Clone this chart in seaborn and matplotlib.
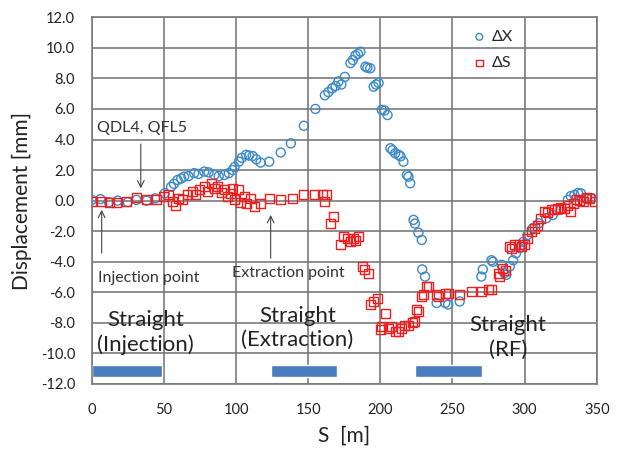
import matplotlib
matplotlib.use("Agg")
import matplotlib.pyplot as plt
import seaborn as sns
import pandas as pd

# ---- data ----
dx_s = [0, 6, 12, 18, 25, 31, 38, 44, 50.6, 55, 57, 59.5, 62, 64, 67, 71, 74, 78, 81, 85,
        88, 92, 95, 97.7, 99, 102, 104, 107, 109, 111.5, 114, 117, 123, 131, 138, 147, 155,
        161.6, 164, 166.6, 169, 171, 173, 175.4, 179.3, 181, 182.7, 184.5, 186.2, 189.7, 191,
        193, 195.4, 197, 198.8, 201, 203, 205, 207, 208.5, 210.3, 212.6, 214, 216, 218.4,
        219.5, 220.7, 223, 224, 226.4, 228.7, 229, 231, 239, 245, 247, 255, 270, 271, 277,
        278, 284, 286, 287.3, 289.7, 292, 294, 296.5, 299, 302, 305.7, 310, 315, 319.5, 325,
        330, 332, 334.5, 337, 339, 343, 346.5]
dx_v = [0.05, 0.1, -0.1, 0.0, -0.1, 0.05, 0.0, 0.15, 0.48, 0.9, 1.1, 1.35, 1.45, 1.57, 1.6,
        1.8, 1.75, 1.9, 1.85, 1.68, 1.6, 1.68, 1.8, 2.0, 2.2, 2.55, 2.8, 3.0, 2.95, 2.92, 2.7,
        2.49, 2.55, 3.15, 3.75, 4.9, 6.0, 6.9, 7.1, 7.35, 7.5, 7.8, 7.6, 8.1, 9.0, 9.2, 9.5,
        9.6, 9.75, 8.77, 8.7, 8.66, 7.46, 7.6, 7.7, 5.94, 5.9, 5.6, 3.43, 3.3, 3.1, 3.0, 2.9,
        2.55, 1.68, 1.57, 1.14, -1.26, -1.5, -2.1, -2.57, -4.5, -4.97, -6.7, -6.7, -6.8, -6.6,
        -4.97, -4.5, -3.9, -4.0, -4.2, -4.75, -4.86, -4.3, -3.9, -3.45, -3.1, -2.7, -2.25,
        -1.8, -1.48, -1.15, -0.94, -0.6, 0.05, 0.3, 0.37, 0.5, 0.48, 0.16, 0.16]

ds_s = [0, 7, 12, 17, 24, 31, 38, 45, 49.4, 53, 56, 58, 60, 63, 66.6, 70, 72, 74.7, 78, 80,
        82.7, 85, 87, 90, 92, 94, 96.5, 97.7, 98.8, 102, 103, 105.7, 107, 110, 112.6, 117,
        123, 131, 139, 147, 154.7, 159.7, 161, 163, 165.5, 167.8, 172.4, 174.7, 177, 179.3,
        181.6, 183, 185, 187.3, 189, 192, 193, 195.4, 197.7, 200, 201, 203.4, 206, 208, 210.3,
        212.6, 215, 217, 219.5, 222, 224, 225, 226.4, 228.7, 230, 232, 233.6, 239, 240, 245,
        247, 255, 263, 270, 274.7, 277, 281.6, 282.7, 285, 287, 289.7, 291, 293, 296.5, 298,
        300, 302, 304.6, 307, 309, 311, 313.8, 316, 318.4, 321, 323, 325, 327.6, 330, 332,
        334, 336, 338, 340.6, 343, 345, 348.5]
ds_v = [-0.07, -0.07, -0.1, -0.13, -0.07, 0.22, 0.05, 0.09, 0.26, 0.37, -0.07, -0.3, 0.16,
        0.05, 0.37, 0.59, 0.4, 0.7, 0.92, 0.6, 1.14, 0.8, 0.92, 0.5, 0.7, 0.3, 0.48, 0.81,
        0.05, 0.7, -0.1, 0.26, -0.17, 0.16, -0.39, -0.17, 0.16, 0.05, 0.16, 0.37, 0.42, 0.37,
        -0.07, 0.37, -1.48, -1.05, -2.9, -2.36, -2.5, -2.68, -2.46, -2.6, -2.36, -4.32, -4.5,
        -4.75, -6.83, -6.6, -6.39, -8.46, -8.24, -7.37, -8.4, -8.24, -8.57, -8.57, -8.35,
        -8.14, -8.14, -8.0, -7.92, -7.15, -7.26, -6.28, -6.17, -5.63, -5.63, -6.17, -6.28,
        -6.06, -6.06, -6.17, -5.96, -5.96, -5.84, -5.84, -4.75, -4.97, -4.43, -4.6, -3.0,
        -3.1, -2.9, -2.9, -3.0, -2.9, -2.5, -2.03, -1.8, -1.6, -1.2, -0.72, -0.8, -0.61,
        -0.55, -0.5, -0.45, -0.5, -0.3, -0.72, -0.2, 0.05, 0.0, -0.07, 0.2, 0.16, -0.07]

straight_start = [0, 124, 224]
straight_end = [48.8, 170, 270.6]

x_ticks = [0, 50, 100, 150, 200, 250, 300, 350]
y_ticks = [-12, -10, -8, -6, -4, -2, 0, 2, 4, 6, 8, 10, 12]

BLUE = "#3a89c9"
RED = "#f01f1f"
BAR = "#4a7cc0"
GRID = "#7a7a7a"

sns.set_theme(style="white")
plt.rcParams["font.family"] = ["Lato", "DejaVu Sans"]

fig = plt.figure(figsize=(6.21, 4.49), dpi=100)
ax = fig.add_axes([0.1477, 0.1448, 0.8133, 0.8167])

df_x = pd.DataFrame({"S": dx_s, "D": dx_v})
df_s = pd.DataFrame({"S": ds_s, "D": ds_v})

sns.scatterplot(data=df_x, x="S", y="D", ax=ax, marker="o", s=42, color=BLUE,
                label="\u0394X", zorder=3)
c1 = ax.collections[-1]
c1.set_facecolor("none"); c1.set_edgecolor(BLUE); c1.set_linewidth(1.0)
sns.scatterplot(data=df_s, x="S", y="D", ax=ax, marker="s", s=42, color=RED,
                label="\u0394S", zorder=4)
c2 = ax.collections[-1]
c2.set_facecolor("none"); c2.set_edgecolor(RED); c2.set_linewidth(1.0)

# straight section bars
widths = [e - s for s, e in zip(straight_start, straight_end)]
ax.barh(y=[-11.15] * 3, width=widths, left=straight_start, height=0.8, color=BAR, zorder=2)

ax.set_xlim(0, 350)
ax.set_ylim(-12, 12)
ax.set_xticks(x_ticks)
ax.set_yticks(y_ticks)
ax.set_yticklabels([f"{v:.1f}" for v in y_ticks])
ax.tick_params(axis="both", length=0, labelsize=10.5, colors="#222222")
ax.tick_params(axis="x", pad=14)
ax.tick_params(axis="y", pad=12)
ax.grid(True, color=GRID, linewidth=1.2, zorder=0)
ax.set_axisbelow(True)
for sp in ax.spines.values():
    sp.set_color(GRID)
    sp.set_linewidth(1.2)

ax.set_xlabel("S  [m]", fontsize=15, color="#222222", labelpad=6)
ax.set_ylabel("Displacement [mm]", fontsize=15, color="#222222", labelpad=6)

# annotations
arrow = dict(arrowstyle="->", color="#444444", lw=0.8, shrinkA=0, shrinkB=0)
ax.text(3.9, 4.74, "QDL4, QFL5", fontsize=11.5, ha="left", va="center", color="#333333")
ax.annotate("", xy=(34, 0.8), xytext=(34, 3.7), arrowprops=arrow)
ax.text(4.3, -5.08, "Injection point", fontsize=11.5, ha="left", va="center", color="#333333")
ax.annotate("", xy=(6.9, -0.6), xytext=(6.9, -3.44), arrowprops=arrow)
ax.text(136.4, -4.75, "Extraction point", fontsize=11.5, ha="center", va="center", color="#333333")
ax.annotate("", xy=(124, -0.94), xytext=(124, -3.77), arrowprops=arrow)

for sx, sy, txt in [(37.5, -8.65, "Straight\n(Injection)"),
                    (142.5, -8.35, "Straight\n(Extraction)"),
                    (288.5, -8.95, "Straight\n(RF)")]:
    ax.text(sx, sy, txt, fontsize=16, ha="center", va="center", multialignment="center",
            linespacing=1.25, color="#222222")

leg = ax.legend(loc="upper left", bbox_to_anchor=(0.72, 1.005), frameon=False,
                fontsize=11.5, handletextpad=0.2, labelspacing=0.75, markerscale=0.75,
                handlelength=1.2)
for h in leg.legend_handles:
    h.set_facecolor("none")
leg.legend_handles[0].set_edgecolor(BLUE)
leg.legend_handles[1].set_edgecolor(RED)

fig.savefig("out.png", dpi=100)
